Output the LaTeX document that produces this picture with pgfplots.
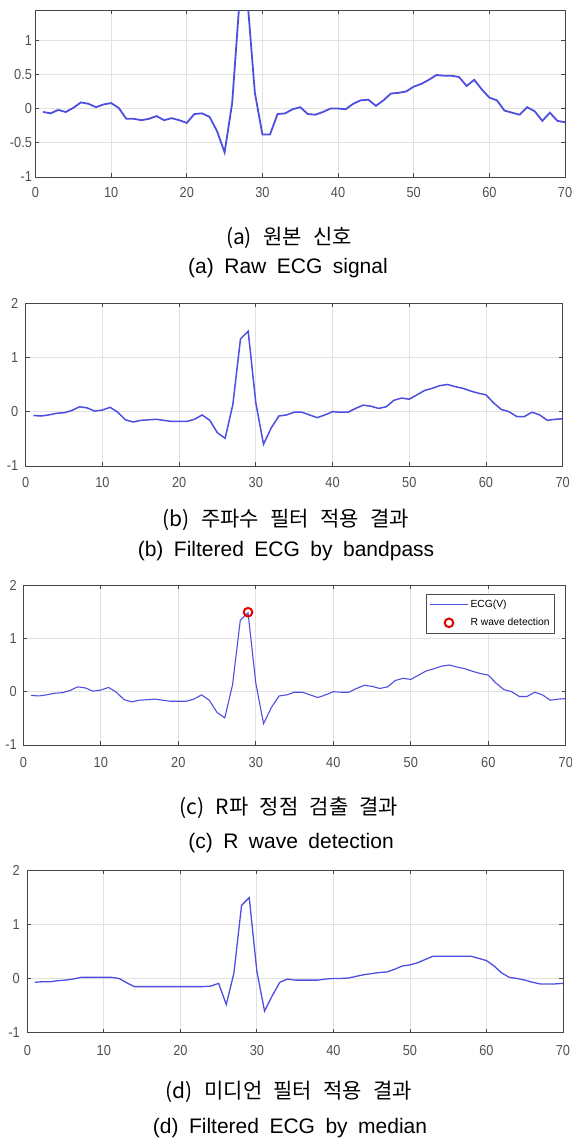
\documentclass[border=0pt]{standalone}
\usepackage{fontspec}
\setmainfont{Liberation Sans}
\newfontfamily\kr[WordSpace=2.4]{Noto Sans CJK KR}
\newfontfamily\en[WordSpace=1.8]{Liberation Sans}
\newfontfamily\tk[FakeStretch=0.88]{Liberation Sans}
\usepackage{pgfplots}
\usepackage{pgfplotstable}
\pgfplotsset{compat=1.18}
\definecolor{ecg}{RGB}{78,78,224}
\definecolor{tickgray}{RGB}{80,80,80}
\definecolor{gridgray}{RGB}{226,226,226}

\pgfplotstableread{
x y
1 -0.05
2 -0.07
3 -0.02
4 -0.05
5 0.01
6 0.09
7 0.07
8 0.02
9 0.06
10 0.08
11 0.01
12 -0.15
13 -0.15
14 -0.17
15 -0.15
16 -0.11
17 -0.17
18 -0.14
19 -0.17
20 -0.21
21 -0.08
22 -0.07
23 -0.12
24 -0.33
25 -0.64
26 0.08
27 1.62
28 1.62
29 0.23
30 -0.38
31 -0.38
32 -0.08
33 -0.07
34 -0.01
35 0.02
36 -0.08
37 -0.09
38 -0.05
39 0.00
40 0.00
41 -0.01
42 0.07
43 0.12
44 0.13
45 0.04
46 0.12
47 0.22
48 0.23
49 0.25
50 0.32
51 0.36
52 0.42
53 0.49
54 0.48
55 0.48
56 0.46
57 0.33
58 0.42
59 0.28
60 0.16
61 0.12
62 -0.03
63 -0.06
64 -0.09
65 0.02
66 -0.04
67 -0.18
68 -0.06
69 -0.18
70 -0.20
}\rawdata

\pgfplotstableread{
x y
1 -0.07
2 -0.08
3 -0.06
4 -0.03
5 -0.02
6 0.02
7 0.09
8 0.07
9 0.01
10 0.03
11 0.08
12 -0.01
13 -0.15
14 -0.19
15 -0.16
16 -0.15
17 -0.14
18 -0.16
19 -0.18
20 -0.18
21 -0.18
22 -0.14
23 -0.06
24 -0.16
25 -0.39
26 -0.49
27 0.13
28 1.34
29 1.48
30 0.16
31 -0.60
32 -0.30
33 -0.08
34 -0.06
35 -0.01
36 -0.01
37 -0.06
38 -0.11
39 -0.06
40 0.00
41 -0.01
42 -0.01
43 0.06
44 0.12
45 0.10
46 0.06
47 0.09
48 0.21
49 0.25
50 0.23
51 0.31
52 0.39
53 0.43
54 0.48
55 0.50
56 0.46
57 0.43
58 0.38
59 0.34
60 0.31
61 0.16
62 0.04
63 0.00
64 -0.09
65 -0.09
66 -0.01
67 -0.06
68 -0.16
69 -0.14
70 -0.13
}\filtdata

\pgfplotstableread{
x y
1 -0.07
2 -0.06
3 -0.06
4 -0.04
5 -0.03
6 -0.01
7 0.02
8 0.02
9 0.02
10 0.02
11 0.02
12 0.00
13 -0.08
14 -0.15
15 -0.15
16 -0.15
17 -0.15
18 -0.15
19 -0.15
20 -0.15
21 -0.15
22 -0.15
23 -0.15
24 -0.14
25 -0.09
26 -0.48
27 0.10
28 1.35
29 1.49
30 0.13
31 -0.60
32 -0.32
33 -0.07
34 -0.01
35 -0.03
36 -0.03
37 -0.03
38 -0.03
39 -0.01
40 0.00
41 0.00
42 0.01
43 0.04
44 0.07
45 0.09
46 0.11
47 0.12
48 0.17
49 0.23
50 0.25
51 0.29
52 0.35
53 0.41
54 0.41
55 0.41
56 0.41
57 0.41
58 0.41
59 0.37
60 0.33
61 0.23
62 0.10
63 0.02
64 0.00
65 -0.03
66 -0.07
67 -0.10
68 -0.10
69 -0.10
70 -0.09
}\meddata

\pgfplotsset{
  ecgaxis/.style={
    scale only axis, anchor=south west,
    xmin=0, xmax=70, xtick={0,10,...,70},
    xticklabels={0,10,20,30,40,50,60,70},
    grid=major, major grid style={gridgray, line width=0.8pt},
    axis line style={draw=black!72, line width=0.9pt},
    tick align=inside, tick pos=both, major tick length=4pt,
    major tick style={draw=black!72, line width=0.8pt},
    xticklabel style={font=\tk\fontsize{14.5}{16}\selectfont, text=tickgray, yshift=-7pt},
    yticklabel style={font=\tk\fontsize{14.5}{16}\selectfont, text=tickgray},
    /pgf/number format/assume math mode=true,
    clip=true,
  },
  legend image code/.code={%
    \draw[mark repeat=2,mark phase=2,#1] plot coordinates {(0pt,0pt) (19pt,0pt) (38pt,0pt)};
  },
}

\begin{document}
\begin{tikzpicture}[x=1pt,y=1pt]
\path[use as bounding box] (0,0) rectangle (572,-1140);

% (a)
\begin{axis}[ecgaxis, at={(35.5pt,-177pt)}, width=529.5pt, height=167pt,
  ymin=-1, ymax=1.44, ytick={-1,-0.5,0,0.5,1}, yticklabels={-1,-0.5,0,0.5,1}]
\addplot[ecg, line width=1.8pt] table[x=x,y=y]{\rawdata};
\end{axis}
\node[font=\kr\fontsize{21}{24}\selectfont] at (289,-238) {(a) 원본 신호};
\node[font=\en\fontsize{21}{24}\selectfont] at (288,-268) {(a) Raw ECG signal};

% (b)
\begin{axis}[ecgaxis, at={(25.7pt,-466pt)}, width=537pt, height=163pt,
  ymin=-1, ymax=2, ytick={-1,0,1,2}, yticklabels={-1,0,1,2},
  yticklabel style={xshift=-4pt}, xticklabel style={yshift=-1pt}]
\addplot[ecg, line width=1.5pt] table[x=x,y=y]{\filtdata};
\end{axis}
\node[font=\kr\fontsize{21}{24}\selectfont] at (286,-520) {(b) 주파수 필터 적용 결과};
\node[font=\en\fontsize{21}{24}\selectfont] at (286,-551) {(b) Filtered ECG by bandpass};

% (c)
\begin{axis}[ecgaxis, at={(23.3pt,-745pt)}, width=542.5pt, height=160pt,
  ymin=-1, ymax=2, ytick={-1,0,1,2}, yticklabels={-1,0,1,2},
  yticklabel style={xshift=-3pt}, xticklabel style={yshift=-2pt},
  legend style={at={(0.98,0.944)}, anchor=north east, draw=black!70, line width=0.8pt,
    font=\fontsize{10.3}{12}\selectfont, cells={anchor=west}, inner xsep=3pt, inner ysep=4pt,
    row sep=5pt}]
\addplot[ecg, line width=1.1pt] table[x=x,y=y]{\filtdata};
\addlegendentry{ECG(V)}
\addplot[only marks, mark=o, mark size=4.3pt, draw=red!90!black, line width=2pt] coordinates {(29,1.49)};
\addlegendentry{R wave detection}
\end{axis}
\node[font=\kr\fontsize{21}{24}\selectfont] at (289,-808) {(c) R파 정점 검출 결과};
\node[font=\en\fontsize{21}{24}\selectfont] at (291,-843) {(c) R wave detection};

% (d)
\begin{axis}[ecgaxis, at={(27.3pt,-1032.7pt)}, width=535.7pt, height=162.7pt,
  ymin=-1, ymax=2, ytick={-1,0,1,2}, yticklabels={-1,0,1,2},
  yticklabel style={xshift=-4pt}, xticklabel style={yshift=-2pt}]
\addplot[ecg, line width=1.3pt] table[x=x,y=y]{\meddata};
\end{axis}
\node[font=\kr\fontsize{21}{24}\selectfont] at (289,-1092) {(d) 미디언 필터 적용 결과};
\node[font=\en\fontsize{21}{24}\selectfont] at (290,-1128) {(d) Filtered ECG by median};
\end{tikzpicture}
\end{document}
